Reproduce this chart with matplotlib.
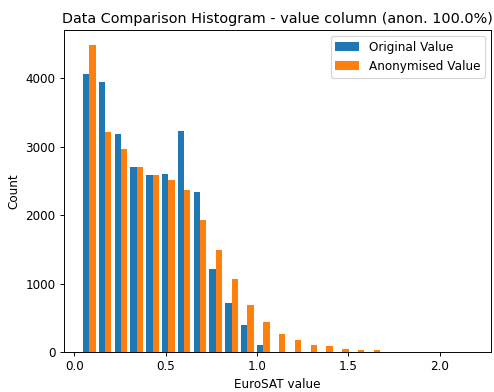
import numpy as np
import matplotlib; matplotlib.use('Agg'); import matplotlib.pyplot as plt

# bin layout of the EuroSAT value histogram
bin_start = 0.039
bin_width = 0.0865
n_bins = 19

orig_counts = [4060, 3950, 3180, 2700, 2590, 2600, 3230, 2340, 1210, 715, 395, 95,
               0, 0, 0, 0, 0, 0, 0]
anon_counts = [4480, 3215, 2965, 2705, 2590, 2520, 2365, 1935, 1490, 1070, 680, 435,
               270, 175, 95, 85, 45, 30, 25]
labels = ['Original Value', 'Anonymised Value']

edges = bin_start + bin_width * np.arange(n_bins + 1)
centers = (edges[:-1] + edges[1:]) / 2

DPI = 86
fig = plt.figure(figsize=(494/DPI, 392/DPI), dpi=DPI)
ax = fig.add_axes([64/494, 40/392, 427/494, 322/392])
ax.hist([centers, centers], bins=edges, weights=[orig_counts, anon_counts], label=labels)
ax.set_xlim(-0.056, 2.28)
ax.set_title('Data Comparison Histogram - value column (anon. 100.0%)')
ax.set_xlabel('EuroSAT value')
ax.set_ylabel('Count')
ax.legend(loc='upper right')
fig.savefig('out.png', dpi=DPI)
